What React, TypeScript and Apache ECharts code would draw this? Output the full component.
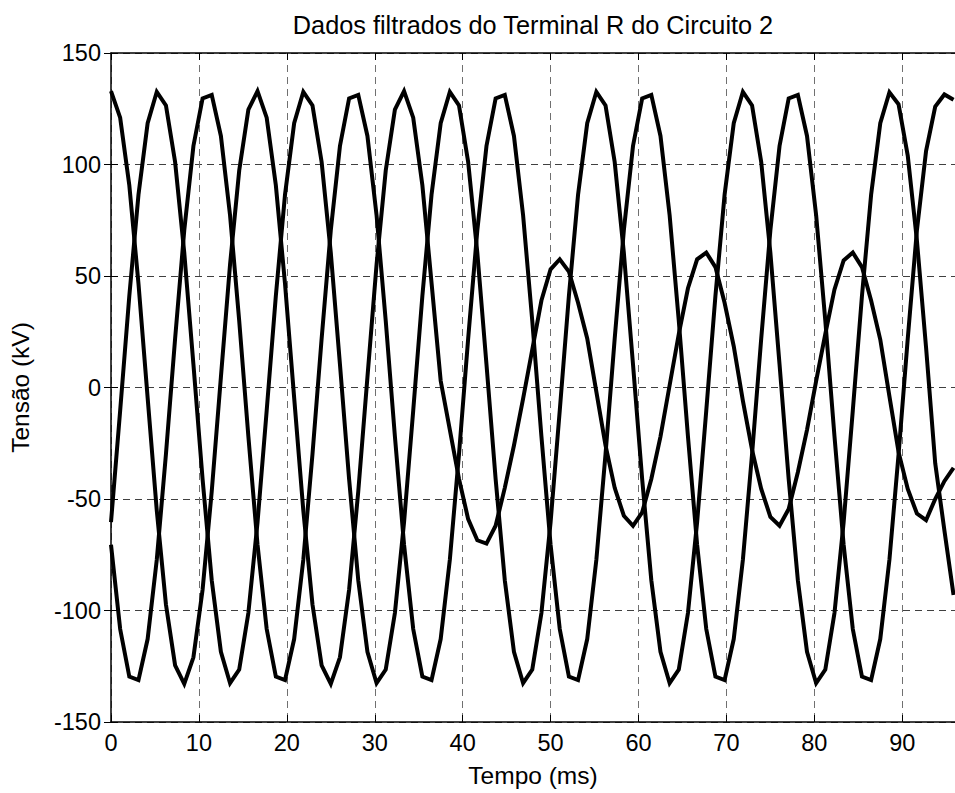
import React, { useEffect, useRef } from "react";
import * as echarts from "echarts";

const TITLE = "Dados filtrados do Terminal R do Circuito 2";
const X_NAME = "Tempo (ms)";
const Y_NAME = "Tensão (kV)";

const X_MIN = 0;
const X_MAX = 96;
const X_STEP = 10;
const Y_MIN = -150;
const Y_MAX = 150;
const Y_STEP = 50;

// sample instants (ms), 16 samples per 60 Hz cycle
const TIME_MS = [
  0, 1.042, 2.083, 3.125, 4.167, 5.208, 6.25, 7.292, 8.333, 9.375,
  10.417, 11.458, 12.5, 13.542, 14.583, 15.625, 16.667, 17.708, 18.75, 19.792,
  20.833, 21.875, 22.917, 23.958, 25, 26.042, 27.083, 28.125, 29.167, 30.208,
  31.25, 32.292, 33.333, 34.375, 35.417, 36.458, 37.5, 38.542, 39.583, 40.625,
  41.667, 42.708, 43.75, 44.792, 45.833, 46.875, 47.917, 48.958, 50, 51.042,
  52.083, 53.125, 54.167, 55.208, 56.25, 57.292, 58.333, 59.375, 60.417, 61.458,
  62.5, 63.542, 64.583, 65.625, 66.667, 67.708, 68.75, 69.792, 70.833, 71.875,
  72.917, 73.958, 75, 76.042, 77.083, 78.125, 79.167, 80.208, 81.25, 82.292,
  83.333, 84.375, 85.417, 86.458, 87.5, 88.542, 89.583, 90.625, 91.667, 92.708,
  93.75, 94.792, 95.833,
];

// phase A (kV)
const PHASE_A = [
  132.9, 121.0, 90.7, 46.6, -4.6, -55.2, -97.3, -124.6, -132.9, -121.0, -90.7, -46.6, 4.6, 55.2, 97.3, 124.6,
  132.9, 121.0, 90.7, 46.6, -4.6, -55.2, -97.3, -124.6, -132.9, -121.0, -90.7, -46.6, 4.6, 55.2, 97.3, 124.6,
  132.9, 121.0, 90.7, 47,
  3, -19, -41, -59, -68.5, -70, -62, -45, -26, -5, 17, 39, 53, 57.5, 52, 38,
  22, -2, -26, -45, -57.5, -62, -56, -41, -22, 1, 24, 44.5, 57.5, 60.5, 54, 38,
  18.5, -6, -28, -45.5, -58, -62, -54.5, -38, -19, 3, 24, 44, 57, 60.5, 54, 39,
  21.5, -4, -29, -45.5, -56.5, -59.5, -50, -42, -36,
];

// phase B (kV)
const PHASE_B = [
  -60.4, -10.4, 41.1, 86.4, 118.5, 132.6, 126.5, 101.1, 60.4, 10.4, -41.1, -86.4, -118.5, -132.6, -126.5, -101.1,
  -60.4, -10.4, 41.1, 86.4, 118.5, 132.6, 126.5, 101.1, 60.4, 10.4, -41.1, -86.4, -118.5, -132.6, -126.5, -101.1,
  -60.4, -10.4, 41.1, 86.4, 118.5, 132.6, 126.5, 101.1, 60.4, 10.4, -41.1, -86.4, -118.5, -132.6, -126.5, -101.1,
  -60.4, -10.4, 41.1, 86.4, 118.5, 132.6, 126.5, 101.1, 60.4, 10.4, -41.1, -86.4, -118.5, -132.6, -126.5, -101.1,
  -60.4, -10.4, 41.1, 86.4, 118.5, 132.6, 126.5, 101.1, 60.4, 10.4, -41.1, -86.4, -118.5, -132.6, -126.5, -101.1,
  -60.4, -10.4, 41.1, 86.4, 118.5, 132.4, 127, 104, 66, 18, -34, -64, -93,
];

// phase C (kV)
const PHASE_C = [
  -70.5, -108.3, -129.6, -131.2, -112.8, -77.2, -29.9, 21.9, 70.5, 108.3, 129.6, 131.2, 112.8, 77.2, 29.9, -21.9,
  -70.5, -108.3, -129.6, -131.2, -112.8, -77.2, -29.9, 21.9, 70.5, 108.3, 129.6, 131.2, 112.8, 77.2, 29.9, -21.9,
  -70.5, -108.3, -129.6, -131.2, -112.8, -77.2, -29.9, 21.9, 70.5, 108.3, 129.6, 131.2, 112.8, 77.2, 29.9, -21.9,
  -70.5, -108.3, -129.6, -131.2, -112.8, -77.2, -29.9, 21.9, 70.5, 108.3, 129.6, 131.2, 112.8, 77.2, 29.9, -21.9,
  -70.5, -108.3, -129.6, -131.2, -112.8, -77.2, -29.9, 21.9, 70.5, 108.3, 129.6, 131.2, 112.8, 77.2, 29.9, -21.9,
  -70.5, -108.3, -129.6, -131.2, -112.8, -77.2, -29.9, 21.9, 70.5, 106, 126, 131.4, 129,
];

const FONT = "'Liberation Sans', Arial, Helvetica, sans-serif";

export default function App() {
  const ref = useRef<HTMLDivElement>(null);

  useEffect(() => {
    document.body.style.margin = "0";
    const chart = echarts.init(ref.current as HTMLDivElement, null, { renderer: "svg" });
    const toPairs = (vals: number[]) => TIME_MS.map((t, i) => [t, vals[i]]);
    const lineSeries = (name: string, vals: number[]) => ({
      name,
      type: "line",
      xAxisIndex: 0,
      yAxisIndex: 0,
      data: toPairs(vals),
      symbol: "none",
      showSymbol: false,
      lineStyle: { color: "#000", width: 4, join: "miter", miterLimit: 10 },
      itemStyle: { color: "#000" },
      z: 5,
    });
    const axisLine = { show: true, onZero: false, lineStyle: { color: "#000", width: 1.5 } };
    const tick = { show: true, inside: true, length: 7, lineStyle: { color: "#000", width: 1 } };
    const labelStyle = { color: "#000", fontSize: 23.5, fontFamily: FONT };

    chart.setOption({
      animation: false,
      backgroundColor: "#ffffff",
      title: {
        text: TITLE,
        left: 528,
        top: 7,
        textAlign: "center",
        textStyle: { fontFamily: FONT, fontSize: 25.3, fontWeight: "normal", color: "#000" },
      },
      grid: { left: 110, top: 53, width: 847, height: 670, containLabel: false },
      xAxis: [
        {
          type: "value",
          min: X_MIN,
          max: X_MAX,
          interval: X_STEP,
          position: "bottom",
          name: X_NAME,
          nameLocation: "middle",
          nameGap: 41,
          nameTextStyle: { color: "#000", fontSize: 24.5, fontFamily: FONT },
          axisLine,
          axisTick: tick,
          axisLabel: { ...labelStyle, margin: 9, showMaxLabel: false },
          splitLine: { show: true, lineStyle: { color: "#707070", width: 1, type: [7, 5] } },
        },
        {
          type: "value",
          min: X_MIN,
          max: X_MAX,
          interval: X_STEP,
          position: "top",
          axisLine,
          axisTick: tick,
          axisLabel: { show: false },
          splitLine: { show: false },
        },
      ],
      yAxis: [
        {
          type: "value",
          min: Y_MIN,
          max: Y_MAX,
          interval: Y_STEP,
          position: "left",
          name: Y_NAME,
          nameLocation: "middle",
          nameGap: 78,
          nameTextStyle: { color: "#000", fontSize: 24.5, fontFamily: FONT },
          axisLine,
          axisTick: tick,
          axisLabel: { ...labelStyle, margin: 10 },
          splitLine: { show: true, lineStyle: { color: "#404040", width: 1, type: [7, 5] } },
        },
        {
          type: "value",
          min: Y_MIN,
          max: Y_MAX,
          interval: Y_STEP,
          position: "right",
          axisLine: { show: false },
          axisTick: tick,
          axisLabel: { show: false },
          splitLine: { show: false },
        },
      ],
      series: [
        lineSeries("Fase A", PHASE_A),
        lineSeries("Fase B", PHASE_B),
        lineSeries("Fase C", PHASE_C),
      ],
    });

    return () => chart.dispose();
  }, []);

  return (
    <div
      ref={ref}
      style={{
        position: "fixed",
        left: 0,
        top: 0,
        width: 955,
        height: 793,
        overflow: "hidden",
        background: "#fff",
      }}
    />
  );
}
